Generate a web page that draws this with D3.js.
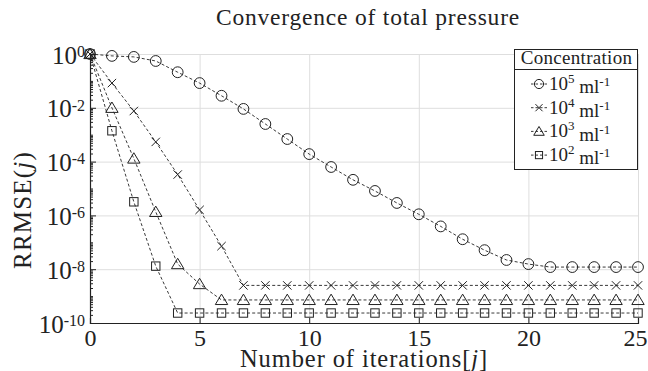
<!DOCTYPE html>
<html>
<head>
<meta charset="utf-8">
<script src="https://cdn.jsdelivr.net/npm/d3@7"></script>
<style>
  html, body { margin: 0; padding: 0; background: #fff; }
  svg { display: block; }
</style>
</head>
<body>
<svg id="chart" width="648" height="371"></svg>
<script>
// Iteration index j
const iterations = d3.range(0, 26);

// RRMSE(j) for each concentration
const rrmse1e5 = [1, 0.85, 0.78, 0.55, 0.21, 0.083, 0.028, 9.1e-3, 2.5e-3, 6.9e-4,
  1.9e-4, 6.3e-5, 2.1e-5, 8.1e-6, 2.9e-6, 1.1e-6, 3.9e-7, 1.3e-7, 5.1e-8, 2.2e-8,
  1.55e-8, 1.2e-8, 1.2e-8, 1.2e-8, 1.2e-8, 1.2e-8];
const rrmse1e4 = [1, 8.3e-2, 7.6e-3, 5.4e-4, 3.3e-5, 1.6e-6, 7.2e-8, 2.5e-9, 2.5e-9, 2.5e-9,
  2.5e-9, 2.5e-9, 2.5e-9, 2.5e-9, 2.5e-9, 2.5e-9, 2.5e-9, 2.5e-9, 2.5e-9, 2.5e-9,
  2.5e-9, 2.5e-9, 2.5e-9, 2.5e-9, 2.5e-9, 2.5e-9];
const rrmse1e3 = [1, 1.0e-2, 1.3e-4, 1.35e-6, 1.55e-8, 2.8e-9, 7.2e-10, 7.2e-10, 7.2e-10, 7.2e-10,
  7.2e-10, 7.2e-10, 7.2e-10, 7.2e-10, 7.2e-10, 7.2e-10, 7.2e-10, 7.2e-10, 7.2e-10, 7.2e-10,
  7.2e-10, 7.2e-10, 7.2e-10, 7.2e-10, 7.2e-10, 7.2e-10];
const rrmse1e2 = [1, 1.4e-3, 3.2e-6, 1.3e-8, 2.35e-10, 2.35e-10, 2.35e-10, 2.35e-10, 2.35e-10, 2.35e-10,
  2.35e-10, 2.35e-10, 2.35e-10, 2.35e-10, 2.35e-10, 2.35e-10, 2.35e-10, 2.35e-10, 2.35e-10, 2.35e-10,
  2.35e-10, 2.35e-10, 2.35e-10, 2.35e-10, 2.35e-10, 2.35e-10];

// Series names: exponent k of the concentration 10^k ml^-1
const seriesExponents = ["5", "4", "3", "2"];
const seriesMarkers = ["circle", "cross", "triangle", "square"];

// Axis ticks
const xTicks = [0, 5, 10, 15, 20, 25];
const yTickExponents = [0, -2, -4, -6, -8, -10];

const titleText = "Convergence of total pressure";
const xLabelText = "Number of iterations";
const yLabelText = "RRMSE";
const legendTitle = "Concentration";

const series = [rrmse1e5, rrmse1e4, rrmse1e3, rrmse1e2].map((vals, i) => ({
  exp: seriesExponents[i],
  marker: seriesMarkers[i],
  points: iterations.map((j, k) => ({ j, v: vals[k] }))
}));

const svg = d3.select("#chart");
const ink = "#222";
const serif = '"Liberation Serif", "Times New Roman", serif';

const x = d3.scaleLinear().domain([0, 25]).range([90, 638]);
const y = d3.scaleLog().domain([1e-10, 1]).range([323, 54]);

// Grid
const grid = svg.append("g").attr("stroke", "#dedede").attr("stroke-width", 1);
grid.selectAll("line.gx").data(xTicks.filter(t => t > 0)).join("line")
  .attr("x1", d => x(d) + 0.5).attr("x2", d => x(d) + 0.5)
  .attr("y1", y(1)).attr("y2", y(1e-10));
grid.selectAll("line.gy").data(yTickExponents.filter(e => e > -10)).join("line")
  .attr("x1", x(0)).attr("x2", x(25))
  .attr("y1", d => y(Math.pow(10, d)) + 0.5).attr("y2", d => y(Math.pow(10, d)) + 0.5);

// Minor ticks on the log axis
const minorVals = [];
for (let e = -10; e < 0; e++) {
  for (let m = 1; m <= 9; m++) {
    if (m === 1 && e % 2 === 0) continue;
    minorVals.push(m * Math.pow(10, e));
  }
}
const minorAxis = svg.append("g").attr("transform", `translate(${x(0)},0)`)
  .call(d3.axisLeft(y).tickValues(minorVals).tickSize(-3).tickFormat(""));
minorAxis.select(".domain").remove();
minorAxis.selectAll("line").attr("stroke", ink);

// Y axis
const yAxis = svg.append("g").attr("transform", `translate(${x(0)},0)`)
  .call(d3.axisLeft(y).tickValues(yTickExponents.map(e => Math.pow(10, e)))
    .tickSize(-6).tickPadding(5).tickFormat(""));
yAxis.select(".domain").attr("stroke", ink).attr("stroke-width", 1.2);
yAxis.selectAll("line").attr("stroke", ink);
yAxis.selectAll(".tick text")
  .attr("font-size", 25).attr("dy", "0.36em").attr("fill", ink)
  .each(function (d) {
    const t = d3.select(this);
    const e = Math.round(Math.log10(d));
    t.append("tspan").text("10");
    t.append("tspan").attr("font-size", 16).attr("dy", "-0.42em").text(String(e));
  });

// X axis
const xAxis = svg.append("g").attr("transform", `translate(0,${y(1e-10)})`)
  .call(d3.axisBottom(x).tickValues(xTicks).tickSize(-5).tickPadding(6));
xAxis.select(".domain").attr("stroke", ink).attr("stroke-width", 1.2);
xAxis.selectAll("line").attr("stroke", ink);
xAxis.selectAll(".tick text").attr("font-size", 24).attr("fill", ink)
  .attr("dx", d => (d === 25 ? -3 : 0));

// Markers
function drawMarker(g, type, k = 1) {
  const common = s => s.attr("fill", "none").attr("stroke", ink).attr("stroke-width", 1);
  if (type === "circle") {
    common(g.append("circle").attr("r", 5.4 * k));
  } else if (type === "cross") {
    const a = 4.2 * k;
    common(g.append("path").attr("d", `M${-a},${-a}L${a},${a}M${-a},${a}L${a},${-a}`));
  } else if (type === "triangle") {
    common(g.append("path").attr("d", `M0,${-5.8 * k}L${6.2 * k},${4.6 * k}L${-6.2 * k},${4.6 * k}Z`));
  } else {
    const a = 4.2 * k;
    common(g.append("rect").attr("x", -a).attr("y", -a).attr("width", 2 * a).attr("height", 2 * a));
  }
}

const line = d3.line().x(d => x(d.j)).y(d => y(d.v));
const plot = svg.append("g");
series.forEach(s => {
  plot.append("path").datum(s.points).attr("d", line)
    .attr("fill", "none").attr("stroke", ink).attr("stroke-width", 0.9)
    .attr("stroke-dasharray", "3,2.2");
  s.points.forEach(p => {
    const g = plot.append("g").attr("transform", `translate(${x(p.j)},${y(p.v)})`);
    drawMarker(g, s.marker);
  });
});

// Title
svg.append("text").attr("x", 368).attr("y", 25).attr("text-anchor", "middle")
  .attr("font-size", 23.5).attr("letter-spacing", 0.8).attr("fill", ink).text(titleText);

// X label
const xl = svg.append("text").attr("x", 364).attr("y", 367).attr("text-anchor", "middle")
  .attr("font-size", 24.5).attr("letter-spacing", 0.9).attr("fill", ink);
xl.append("tspan").text(xLabelText + "[");
xl.append("tspan").attr("font-style", "italic").text("j");
xl.append("tspan").text("]");

// Y label
const yl = svg.append("text").attr("transform", "translate(31,210) rotate(-90)")
  .attr("text-anchor", "middle").attr("font-size", 25).attr("letter-spacing", 1.2).attr("fill", ink);
yl.append("tspan").text(yLabelText + "(");
yl.append("tspan").attr("font-style", "italic").text("j");
yl.append("tspan").text(")");

// Legend
const lg = svg.append("g");
const lx0 = 514, lx1 = 637, ly0 = 49, ly1 = 169;
lg.append("rect").attr("x", lx0 + 0.5).attr("y", ly0 + 0.5)
  .attr("width", lx1 - lx0).attr("height", ly1 - ly0)
  .attr("fill", "#fff").attr("stroke", ink).attr("stroke-width", 1);
lg.append("line").attr("x1", lx0).attr("x2", lx1).attr("y1", 69.5).attr("y2", 69.5)
  .attr("stroke", ink).attr("stroke-width", 1);
lg.append("text").attr("x", (lx0 + lx1) / 2 + 1).attr("y", 64).attr("text-anchor", "middle")
  .attr("font-size", 19).attr("letter-spacing", 0.3).attr("fill", ink).text(legendTitle);
series.forEach((s, i) => {
  const cy = 84 + i * 23.7;
  lg.append("line").attr("x1", 531).attr("x2", 547).attr("y1", cy).attr("y2", cy)
    .attr("stroke", ink).attr("stroke-width", 0.9).attr("stroke-dasharray", "2.5,2");
  const g = lg.append("g").attr("transform", `translate(539,${cy})`);
  drawMarker(g, s.marker, 0.85);
  const t = lg.append("text").attr("x", 549).attr("y", cy + 6).attr("font-size", 19).attr("fill", ink);
  t.append("tspan").text("10");
  t.append("tspan").attr("font-size", 13).attr("dy", "-0.55em").text(s.exp);
  t.append("tspan").attr("dy", "0.55em").text(" ml");
  t.append("tspan").attr("font-size", 13).attr("dy", "-0.55em").text("-1");
});

// Serif face for every label, including those created by the axes
svg.selectAll("text").style("font-family", serif);
</script>
</body>
</html>
